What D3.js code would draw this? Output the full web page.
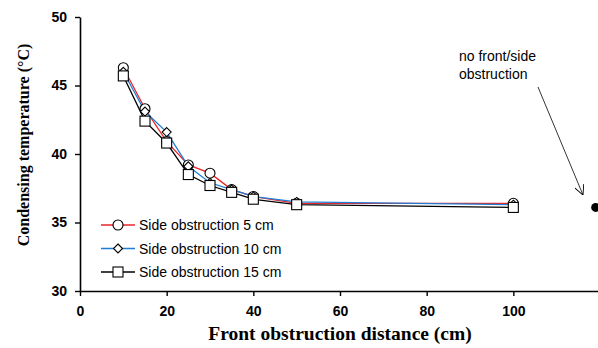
<!DOCTYPE html>
<html>
<head>
<meta charset="utf-8">
<script src="https://cdn.jsdelivr.net/npm/d3@7"></script>
<style>
  body { margin: 0; background: #fff; }
  svg { display: block; }
</style>
</head>
<body>
<div id="chart"></div>
<script>
// chart data
const distances = [10, 15, 20, 25, 30, 35, 40, 50, 100];
const side5 = [46.3, 43.3, 40.9, 39.2, 38.6, 37.4, 36.9, 36.4, 36.4];
const side10 = [46.0, 43.1, 41.6, 39.1, 37.9, 37.4, 36.9, 36.5, 36.3];
const side15 = [45.7, 42.4, 40.8, 38.5, 37.7, 37.2, 36.7, 36.3, 36.1];
const seriesNames = ['Side obstruction 5 cm', 'Side obstruction 10 cm', 'Side obstruction 15 cm'];
const noObstruction = { x: 119, y: 36.1 };
const xTicks = [0, 20, 40, 60, 80, 100];
const yTicks = [30, 35, 40, 45, 50];

const width = 598, height = 348;
const margin = { top: 17, right: -2, bottom: 57, left: 80 };

const svg = d3.select('#chart').append('svg')
  .attr('width', width)
  .attr('height', height);

const x = d3.scaleLinear().domain([0, 120]).range([margin.left, width - margin.right]);
const y = d3.scaleLinear().domain([30, 50]).range([height - margin.bottom, margin.top]);

// axes
const xAxis = svg.append('g')
  .attr('transform', `translate(0,${y(30)})`)
  .call(d3.axisBottom(x).tickValues(xTicks).tickSize(5).tickSizeOuter(0).tickPadding(10));
const yAxis = svg.append('g')
  .attr('transform', `translate(${x(0)},0)`)
  .call(d3.axisLeft(y).tickValues(yTicks).tickSize(5).tickSizeOuter(0).tickPadding(8));

[xAxis, yAxis].forEach(g => {
  g.select('.domain').attr('stroke', '#000').attr('stroke-width', 1.6);
  g.selectAll('.tick line').attr('stroke', '#000').attr('stroke-width', 1.4);
  g.selectAll('.tick text')
    .attr('fill', '#000')
    .style('font-family', '"Liberation Sans", Arial, sans-serif')
    .style('font-weight', 'bold')
    .style('font-size', '14px');
});

// axis titles
svg.append('text')
  .attr('x', 340).attr('y', 340)
  .attr('text-anchor', 'middle')
  .style('font-family', '"Liberation Serif", "Times New Roman", serif')
  .style('font-weight', 'bold')
  .style('font-size', '19.5px')
  .text('Front obstruction distance (cm)');

svg.append('text')
  .attr('transform', 'translate(29,145) rotate(-90)')
  .attr('text-anchor', 'middle')
  .style('font-family', '"Liberation Serif", "Times New Roman", serif')
  .style('font-weight', 'bold')
  .style('font-size', '16px')
  .text('Condensing temperature (°C)');

const series = [
  { name: seriesNames[0], values: side5, color: '#e8262b', marker: 'circle' },
  { name: seriesNames[1], values: side10, color: '#1f7ed4', marker: 'diamond' },
  { name: seriesNames[2], values: side15, color: '#000000', marker: 'square' }
];

const line = d3.line()
  .x((d, i) => x(distances[i]))
  .y(d => y(d));

function drawMarker(g, type, cx, cy) {
  if (type === 'circle') {
    g.append('circle').attr('cx', cx).attr('cy', cy).attr('r', 5)
      .attr('fill', '#fff').attr('stroke', '#000').attr('stroke-width', 1.1);
  } else if (type === 'diamond') {
    const s = 4.5;
    g.append('path')
      .attr('d', `M${cx},${cy - s}L${cx + s},${cy}L${cx},${cy + s}L${cx - s},${cy}Z`)
      .attr('fill', '#fff').attr('stroke', '#000').attr('stroke-width', 1.1);
  } else {
    g.append('rect').attr('x', cx - 5).attr('y', cy - 5).attr('width', 10).attr('height', 10)
      .attr('fill', '#fff').attr('stroke', '#000').attr('stroke-width', 1.1);
  }
}

series.forEach(s => {
  svg.append('path')
    .datum(s.values)
    .attr('d', line)
    .attr('fill', 'none')
    .attr('stroke', s.color)
    .attr('stroke-width', 1.3);
});

series.forEach(s => {
  const g = svg.append('g');
  s.values.forEach((v, i) => drawMarker(g, s.marker, x(distances[i]), y(v)));
});

// reference point
svg.append('circle')
  .attr('cx', x(noObstruction.x)).attr('cy', y(noObstruction.y)).attr('r', 4.5)
  .attr('fill', '#000');

// annotation
const ann = svg.append('text')
  .style('font-family', '"Liberation Sans", Arial, sans-serif')
  .style('font-size', '14px')
  .attr('fill', '#000');
ann.append('tspan').attr('x', 459).attr('y', 61).text('no front/side');
ann.append('tspan').attr('x', 459).attr('y', 79).text('obstruction');

svg.append('defs').append('marker')
  .attr('id', 'arrow')
  .attr('viewBox', '0 0 10 10')
  .attr('refX', 10).attr('refY', 5)
  .attr('markerWidth', 10).attr('markerHeight', 10)
  .attr('markerUnits', 'userSpaceOnUse')
  .attr('orient', 'auto')
  .append('path')
  .attr('d', 'M0,0L10,5L0,10')
  .attr('fill', 'none')
  .attr('stroke', '#000')
  .attr('stroke-width', 0.9);

svg.append('line')
  .attr('x1', 538).attr('y1', 87)
  .attr('x2', 583).attr('y2', 195)
  .attr('stroke', '#000')
  .attr('stroke-width', 0.8)
  .attr('marker-end', 'url(#arrow)');

// legend
const legend = svg.append('g');
series.forEach((s, i) => {
  const ly = 225 + i * 23.5;
  legend.append('line')
    .attr('x1', 101).attr('x2', 135).attr('y1', ly).attr('y2', ly)
    .attr('stroke', s.color).attr('stroke-width', 1.3);
  drawMarker(legend, s.marker, 118, ly);
  legend.append('text')
    .attr('x', 139).attr('y', ly + 5)
    .style('font-family', '"Liberation Sans", Arial, sans-serif')
    .style('font-size', '14px')
    .attr('fill', '#000')
    .text(s.name);
});
</script>
</body>
</html>
